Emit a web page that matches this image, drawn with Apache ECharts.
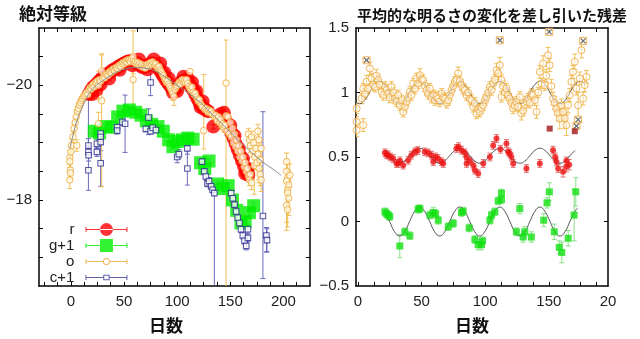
<!DOCTYPE html>
<html><head><meta charset="utf-8">
<script src="https://cdn.jsdelivr.net/npm/echarts@6/dist/echarts.min.js"></script>
<style>html,body{margin:0;padding:0;background:#fff}#c{width:640px;height:339px}</style>
</head><body><div id="c"></div>
<script>
// ---------- LEFT PANEL DATA: [day, absolute magnitude, error (number or [toward-bright, toward-faint])] ----------
const rPts = [[17,-19.85],[19,-19.92],[21,-19.97],[23,-20.0],[25,-20.04],[27,-20.08],[29,-20.12],[31,-20.15],[33,-20.18],[35,-20.2],[37,-20.23],[39,-20.26],[41,-20.28],[43,-20.3],[45,-20.33],[47,-20.35],[49,-20.37],[51,-20.39],[53,-20.41],[55,-20.42],[57,-20.42],[59,-20.41],[61,-20.39],[63,-20.37],[65,-20.35],[67,-20.32],[69,-20.32],[71,-20.34],[73,-20.36],[75,-20.38],[77,-20.38],[79,-20.36],[81,-20.32],[83,-20.28],[85,-20.22],[87,-20.16],[89,-20.1],[91,-20.05],[93,-20.0],[95,-19.95],[97,-19.93],[99,-19.95],[101,-19.99],[103,-20.04],[105,-20.07],[107,-20.08],[109,-20.07],[111,-20.03],[113,-19.98],[115,-19.92],[117,-19.85],[119,-19.77],[121,-19.7],[123,-19.65],[125,-19.6],[127,-19.57],[129,-19.55],[134,-19.28],[141,-19.5],[143,-19.45],[145,-19.4],[147,-19.33],[149,-19.25],[151,-19.17],[153,-19.08],[155,-18.98],[157,-18.88],[159,-18.78],[161,-18.68],[163,-18.58],[165,-18.5],[167,-18.44],
[20,-19.85],[24,-19.92],[28,-20.02],[36,-20.12],[46,-20.27],[58,-20.35],[64,-20.45],[72,-20.28],[78,-20.45],[84,-20.38],[88,-20.22],[92,-20.12],[96,-19.88],[100,-19.9],[106,-20.15],[110,-20.12],[114,-20.05],[118,-19.9],[122,-19.62],[124,-19.72],[144,-19.52],[150,-19.3],[154,-19.12],[158,-18.9],[162,-18.72],[166,-18.55],[164,-18.46]];
const rErr = 0.04;

const gPts = [[22,-19.2,0.04],[27,-19.17,0.04],[33,-19.28,0.04],[38,-19.27,0.04],[44,-19.45,0.04],[49,-19.55,0.04],[55,-19.57,0.04],[61,-19.53,0.04],[66,-19.48,0.04],[71,-19.38,0.04],[76,-19.32,0.04],[82,-19.28,0.04],[87,-19.2,0.04],[92,-19.05,0.04],[96,-18.93,0.04],[100,-19.02,0.04],[105,-19.05,0.04],[110,-19.08,0.04],[115,-19.06,0.04],[122,-18.65,0.04],[126,-18.55,0.04],[130,-18.68,0.04],[138,-18.28,0.05],[143,-18.2,0.05],[148,-18.25,0.05],[152,-18.0,0.05],[156,-17.82,0.05],[160,-17.6,0.05],[164,-17.62,0.05],[168,-17.78,0.05],[172,-17.9,0.06]];

const oPts = [[-1,-18.74,0.12],[-1,-18.67,0.1],[-0.5,-18.52,0.12],[-0.5,-18.47,0.1],[-1,-18.35,0.15],[0,-18.84,0.1],[0.5,-18.95,0.12],
[2,-19.1,0.1],[3,-19.25,0.08],[4,-19.35,0.08],[5.5,-18.95,0.1],[5,-19.45,0.08],[6,-19.55,0.08],[7,-19.6,0.08],[8,-19.66,0.07],[9,-19.7,0.07],[10,-19.74,0.06],[11,-19.77,0.06],[12,-19.8,0.06],[13,-19.82,0.06],[14,-19.85,0.05],[15,-19.88,0.05],[16,-19.84,0.05],[17,-19.92,0.05],[18,-19.96,0.05],[19,-19.93,0.05],[20,-19.99,0.05],[21,-20.02,0.05],[22,-19.97,0.05],[23,-20.05,0.05],[24,-20.03,0.05],[25,-20.08,0.05],[26,-20.0,0.25],[26,-19.33,0.2],[27,-20.1,0.05],[28,-20.07,0.05],[29,-20.25,0.3],[29,-19.73,[0.8,1.5]],[30,-20.12,0.05],[31,-20.16,0.05],[32,-20.13,0.05],[33,-20.19,0.05],[34,-20.2,0.05],[35,-20.17,0.05],[36,-20.23,0.05],[37,-20.25,0.05],[38,-20.22,0.05],[39,-20.27,0.05],[40,-20.29,0.05],[41,-20.26,0.05],[42,-20.3,0.05],[43,-20.32,0.05],[44,-20.29,0.05],[45,-20.34,0.05],[46,-20.36,0.05],[47,-20.33,0.05],[48,-20.38,0.05],[49,-20.4,0.05],[50,-20.37,0.05],[51,-20.41,0.05],[52,-20.43,0.05],[53,-20.4,0.05],[54,-20.45,0.05],[55,-20.44,0.05],[56,-20.41,0.05],[57,-20.46,0.05],[58.5,-20.5,[0.45,0.3]],[58.5,-20.1,[0.2,0.6]],[59,-20.42,0.05],[60,-20.39,0.05],[61,-20.41,0.05],[62,-20.37,0.05],[63,-20.4,0.05],[64,-20.35,0.05],[65,-20.38,0.05],[66,-20.33,0.05],[67,-20.36,0.05],[68,-20.31,0.05],[69,-20.34,0.05],[70,-20.3,0.05],[71,-20.35,0.05],[72,-20.37,0.05],[73,-20.33,0.05],[74,-20.38,0.05],[75,-20.4,0.05],[76,-20.36,0.05],[77,-20.41,0.05],[78,-20.38,0.05],[79,-20.35,0.05],[80,-20.37,0.05],[81,-20.32,0.05],[82,-20.3,0.05],[83,-20.33,0.05],[84,-20.27,0.05],[85,-20.24,0.05],[86,-20.2,0.06],[87,-20.17,0.06],[88,-20.12,0.06],[89,-20.09,0.06],[90,-20.05,0.06],[91,-20.08,0.06],[92,-20.02,0.06],[93,-19.98,0.06],[94,-19.94,0.06],[95,-19.9,0.06],[96,-19.86,0.12],[97,-19.8,0.15],[98,-19.93,0.06],[99,-19.97,0.06],[100,-20.0,0.06],[101,-20.03,0.06],[102,-20.06,0.06],[103,-20.02,0.06],[104,-20.08,0.06],[105,-20.1,0.06],[106,-20.06,0.06],[107,-20.09,0.06],[108,-20.05,0.06],[109,-20.1,0.06],[110,-20.03,0.06],[112,-20.24,0],[111,-19.98,0.06],[112,-19.95,0.06],[113,-19.92,0.06],[114,-19.97,0.06],[115,-19.88,0.06],[116,-19.84,0.06],[117,-19.86,0.06],[118,-19.8,0.06],[119,-19.76,0.06],[120,-19.72,0.06],[121,-19.75,0.06],[122,-19.68,0.06],[123,-19.65,0.06],[124,-19.62,0.06],[125,-19.21,[0.98,0.32]],[126,-19.58,0.06],[127,-19.6,0.06],[128,-19.56,0.06],[129,-19.53,0.06],[130,-19.57,0.06],[131,-19.52,0.06],[132,-19.55,0.06],[133,-19.5,0.06],[135,-19.45,0.06],[136,-19.48,0.06],[137,-19.42,0.06],[138,-19.38,0.06],[139,-19.45,0.06],[140,-19.35,0.07],[141,-19.4,0.07],[142,-19.3,0.07],[143,-19.33,0.07],[144,-19.25,0.07],[145,-19.3,0.07],[146,-20.04,[0.75,3.6]],[146,-19.47,0.15],[147,-19.2,0.07],[148,-19.45,0.07],[149,-19.15,0.07],[150,-19.35,0.07],[151,-19.1,0.07],[152,-19.25,0.08],[153,-19.0,0.08],[154,-19.15,0.08],[155,-18.93,0.08],[156,-19.05,0.08],[157,-18.85,0.08],[158,-18.95,0.08],[159,-18.75,0.08],[160,-18.85,0.08],[161,-18.68,0.08],[162,-18.75,0.1],[163,-18.58,0.1],[164,-18.65,0.1],[165,-18.5,0.1],[166,-18.55,0.1],[167,-18.42,0.1],[168,-18.35,0.1],[169,-18.45,0.1],[170,-18.3,0.12],
[167,-19.15,0.1],[168,-19.05,0.1],[169,-18.95,0.12],[170,-19.1,0.1],[171,-18.85,0.1],[172,-19.0,0.12],[172.5,-18.6,[0.2,0.5]],[173,-18.75,0.12],[174,-18.9,0.15],[175,-18.65,0.12],[176,-19.2,0.12],[176,-18.8,0.15],[177,-18.55,0.2],[177,-19.05,[0.15,0.75]],[178,-18.7,0.15],[178,-18.45,0.2],[179,-18.9,0.15],[179,-18.35,0.2],
[203,-18.67,[0.15,1.2]],[203,-18.5,0.2],[204,-18.38,0.25],[203,-18.33,0.2],[205,-18.26,0.25],[204,-18.17,0.3],[204,-18.12,0.3],[205,-18.03,0.3],[203,-17.91,0.3],[204,-17.83,0.3],[206,-18.43,0.2]];

const cPts = [[16.5,-18.95,0.12],[16.5,-18.84,0.1],[16.7,-18.78,0.1],[16.5,-18.52,[1.27,0.35]],[24.5,-18.98,0.08],[24.5,-18.84,0.08],[28,-19.16,0.1],[28,-19.1,0.1],[28,-19.01,0.15],[28,-18.64,[0.7,0.4]],[43.5,-19.27,0.06],[43.5,-19.21,0.06],[48.5,-19.36,0.06],[51,-19.33,0.5],[70.5,-19.24,0.05],[73,-19.44,[0.15,0.3]],[75,-19.2,0.05],[77,-19.26,0.05],[80,-19.22,0.05],[75,-20.05,0.23],[100,-18.75,0.1],[101.6,-18.8,0.08],[109.6,-18.9,0.1],[109.6,-18.55,[0.43,0.29]],[123.3,-18.67,0.06],[125.5,-18.5,0.06],[127,-18.41,0.06],[128.5,-18.29,0.06],[130,-18.33,0.06],[132,-18.24,0.06],[133.4,-18.18,0.06],[135,-18.12,[0.15,1.8]],[150.8,-18.12,0.05],[152.4,-18.03,0.05],[154,-17.92,0.05],[155.5,-17.8,0.05],[157,-17.69,0.05],[158.6,-17.6,0.05],[160,-17.49,0.06],[161.8,-17.38,0.06],[163.4,-17.29,0.06],[165,-17.2,0.07],[166.6,-17.34,0.07],[166.6,-17.49,0.07],[180.7,-17.72,[1.82,1.09]],[184,-17.38,[0.14,0.29]],[184.5,-17.3,0.2]];

const fitLeft = [[-1,-18.9],[3,-19.2],[6,-19.4],[10,-19.58],[14,-19.75],[18,-19.88],[24,-20.0],[30,-20.08],[40,-20.2],[50,-20.28],[60,-20.31],[70,-20.3],[80,-20.24],[90,-20.13],[100,-20.0],[110,-19.87],[120,-19.73],[130,-19.55],[140,-19.37],[150,-19.18],[160,-19.0],[170,-18.83],[180,-18.67],[190,-18.54],[198,-18.43]];

// ---------- RIGHT PANEL DATA: residuals [day, value, error] ----------
const oRes = [[-1,0.876,0.04],[-1,0.773,0.04],[-1,0.708,0.05],[2.9,0.953,0.04],[4.2,0.747,0.05],[4.2,1.031,0.04],[5.5,0.99,0.04],[6.8,1.083,0.05],[8,1.03,0.04],[9.4,1.186,0.05],[10.7,1.109,0.04],[12,1.06,0.04],[13.3,1.044,0.04],[14.5,1.13,0.05],[15.9,1.096,0.04],[17,1.06,0.04],[18.6,1.005,0.04],[20,0.98,0.04],[21.2,1.044,0.04],[22.5,1.02,0.04],[23.8,0.992,0.04],[25,0.96,0.04],[26.4,1.044,0.04],[27.7,1.0,0.04],[29,0.953,0.04],[30.3,0.93,0.04],[31.6,0.979,0.04],[33,0.902,0.04],[34.3,0.94,0.04],[35.6,0.85,0.04],[36.9,0.89,0.04],[38.2,0.928,0.04],[39.5,0.96,0.04],[40.8,1.005,0.04],[42,0.98,0.04],[43.5,1.07,0.04],[44.8,1.03,0.04],[46,1.109,0.04],[47.3,1.07,0.04],[48.7,1.134,0.05],[50,1.1,0.04],[51.3,1.096,0.04],[52.6,1.05,0.04],[53.9,1.018,0.04],[55.2,0.99,0.04],[56.5,1.031,0.04],[57.8,0.96,0.04],[59.2,0.979,0.04],[60.5,0.94,0.04],[61.8,0.97,0.04],[63,0.953,0.04],[64.4,0.93,0.04],[65.8,0.99,0.04],[67,0.96,0.04],[68.4,0.953,0.04],[69.7,0.92,0.04],[71,0.941,0.04],[72.3,0.98,0.04],[73.6,1.018,0.04],[74.9,1.05,0.04],[76.2,1.083,0.04],[77.5,1.1,0.04],[78.8,1.147,0.05],[80.1,1.09,0.04],[81.4,1.057,0.04],[82.7,1.03,0.04],[84,1.018,0.04],[85.4,0.979,0.04],[86.7,1.0,0.04],[88,0.95,0.04],[89.3,0.941,0.04],[90.6,0.889,0.04],[91.9,0.92,0.04],[93.2,0.837,0.04],[94.5,0.87,0.04],[95.8,0.85,0.04],[97.1,0.88,0.04],[98.5,0.902,0.04],[99.8,0.94,0.04],[101,0.966,0.04],[102.4,1.0,0.04],[103.7,1.044,0.04],[105,1.02,0.04],[106.3,1.07,0.04],[107.6,1.1,0.04],[108.9,1.173,0.05],[110.2,1.15,0.05],[111.5,1.212,0.06],[112.8,1.096,0.04],[112.8,0.966,0.04],[114,1.05,0.04],[115.4,1.0,0.04],[116.7,1.031,0.04],[118,0.98,0.04],[119.3,0.953,0.04],[120.6,0.92,0.04],[121.9,0.876,0.04],[123.2,0.9,0.04],[124.5,0.928,0.04],[125.8,0.89,0.04],[127.2,0.966,0.04],[128.5,0.837,0.05],[129.8,0.86,0.04],[131.1,0.902,0.04],[132.4,0.93,0.04],[133.7,0.953,0.04],[135,0.92,0.04],[136.3,0.99,0.04],[137.6,0.979,0.04],[139,0.94,0.04],[140.3,0.85,0.05],[141.6,1.0,0.04],[142.9,1.16,0.05],[144.2,1.07,0.04],[145.5,1.225,0.06],[146.8,1.057,0.04],[148,1.13,0.05],[149.4,1.289,0.06],[150.7,1.212,0.05],[152,1.05,0.05],[153.3,0.953,0.05],[154.6,0.92,0.05],[156,0.876,0.05],[157.3,0.84,0.06],[158.6,0.798,0.08],[159.9,0.9,0.05],[161.2,0.85,0.07],[162.5,0.8,0.08],[163.8,0.747,0.08],[165.1,0.902,0.06],[166.4,0.979,0.05],[167.7,1.083,0.05],[169,1.16,0.05],[170.4,1.238,0.06],[171.7,1.031,0.05],[173,0.9,0.1],[174.3,1.109,0.05],[175.6,1.328,0.06],[177,0.953,0.05],[178.2,1.057,0.05],[179.6,1.121,0.05]];
const xMarks = [[6.8,1.25],[111.5,1.405],[150.3,1.47],[177,1.4],[173,0.79],[171.7,0.74]];
const darkRed = [[150.7,0.72],[170.4,0.70]];
const rRes = [[21.2,0.532,0.03],[22.5,0.52,0.03],[23.8,0.514,0.03],[25.5,0.5,0.03],[27.7,0.488,0.03],[30.3,0.45,0.03],[31.6,0.45,0.03],[33,0.47,0.03],[35.6,0.437,0.03],[39.5,0.475,0.03],[42,0.514,0.03],[44.7,0.54,0.03],[47,0.55,0.03],[52.5,0.54,0.03],[55.2,0.532,0.03],[57.8,0.514,0.03],[59.2,0.463,0.03],[61,0.5,0.03],[63,0.488,0.03],[65.7,0.463,0.03],[67,0.45,0.03],[77.4,0.566,0.03],[79,0.58,0.03],[81.4,0.553,0.03],[84,0.532,0.03],[85.4,0.5,0.03],[85.4,0.45,0.03],[88,0.47,0.03],[90.6,0.437,0.03],[91.9,0.398,0.03],[94.5,0.372,0.03],[98.5,0.45,0.03],[103.7,0.5,0.03],[106.3,0.59,0.03],[108.9,0.643,0.03],[112,0.56,0.03],[116.7,0.605,0.03],[118,0.54,0.03],[119.3,0.53,0.03],[120.6,0.5,0.03],[122,0.45,0.03],[132.4,0.411,0.03],[142.9,0.45,0.03],[153.3,0.553,0.03],[155,0.5,0.03],[156,0.463,0.03],[157.3,0.411,0.03],[161.2,0.385,0.04],[163.8,0.424,0.04],[163.8,0.47,0.03],[166,0.44,0.04]];
const gRes = [[21.2,0.075,0.03],[22.5,0.06,0.03],[23.8,0.05,0.03],[25,0.038,0.03],[32.9,-0.19,0.09],[36.9,-0.08,0.03],[40.8,-0.11,0.03],[47.3,0.095,0.03],[48.7,0.1,0.03],[56.6,0.05,0.03],[59.2,0.07,0.04],[61,0.06,0.03],[63.1,0.01,0.03],[71,-0.04,0.03],[74.9,-0.015,0.03],[81.4,0.07,0.03],[82.7,0.08,0.03],[87.4,-0.05,0.03],[91.9,-0.14,0.03],[94.5,-0.18,0.04],[97.1,-0.18,0.04],[97.9,-0.15,0.03],[103.7,0.01,0.03],[105,0.05,0.03],[107.6,0.075,0.03],[110.2,0.16,0.03],[112.8,0.17,0.03],[112.8,0.22,0.03],[124.5,-0.08,0.03],[127.2,0.1,0.04],[129.8,-0.12,0.04],[131.1,-0.08,0.04],[136.3,-0.12,0.04],[146,0.01,0.05],[148.6,0.145,0.04],[150.4,0.23,0.07],[154.3,-0.08,0.06],[158.2,-0.2,0.05],[160.2,-0.24,0.08],[165.2,-0.13,0.06],[169.9,0.05,0.2],[171.2,0.23,0.11]];

// periodic fit curves read at peaks, troughs and between
const fitO = [[-1.5,0.926],[1.25,0.913],[5.2,0.938],[9.1,1.0],[13.1,1.062],[17,1.087],[20.9,1.062],[24.9,1.0],[28.8,0.938],[32.75,0.913],[36.7,0.938],[40.6,1.0],[44.6,1.062],[48.5,1.087],[52.4,1.062],[56.4,1.0],[60.3,0.938],[64.25,0.913],[68.2,0.938],[72.1,1.0],[76.1,1.062],[80,1.087],[83.9,1.062],[87.9,1.0],[91.8,0.938],[95.75,0.913],[99.7,0.938],[103.6,1.0],[107.6,1.062],[111.5,1.087],[115.4,1.062],[119.4,1.0],[123.3,0.938],[127.25,0.913],[131.2,0.938],[135.1,1.0],[139.1,1.062],[143,1.087],[146.9,1.062],[150.9,1.0],[154.8,0.938],[158.75,0.913],[162.7,0.938],[166.6,1.0],[170.6,1.062],[174.5,1.087],[178.4,1.062]];
const fitR = [[20.9,0.551],[24.9,0.51],[28.8,0.469],[32.75,0.452],[36.7,0.469],[40.6,0.51],[44.6,0.551],[48.5,0.568],[52.4,0.551],[56.4,0.51],[60.3,0.469],[64.25,0.452],[68.2,0.469],[72.1,0.51],[76.1,0.551],[80,0.568],[83.9,0.551],[87.9,0.51],[91.8,0.469],[95.75,0.452],[99.7,0.469],[103.6,0.51],[107.6,0.551],[111.5,0.568],[115.4,0.551],[119.4,0.51],[123.3,0.469],[127.25,0.452],[131.2,0.469],[135.1,0.51],[139.1,0.551],[143,0.568],[146.9,0.551],[150.9,0.51],[154.8,0.469],[158.75,0.452],[162.7,0.469],[166.6,0.51],[170.6,0.551]];
const fitG = [[20.9,0.079],[24.9,0.0],[28.8,-0.079],[32.75,-0.112],[36.7,-0.079],[40.6,0.0],[44.6,0.079],[48.5,0.112],[52.4,0.079],[56.4,0.0],[60.3,-0.079],[64.25,-0.112],[68.2,-0.079],[72.1,0.0],[76.1,0.079],[80,0.112],[83.9,0.079],[87.9,0.0],[91.8,-0.079],[95.75,-0.112],[99.7,-0.079],[103.6,0.0],[107.6,0.079],[111.5,0.112],[115.4,0.079],[119.4,0.0],[123.3,-0.079],[127.25,-0.112],[131.2,-0.079],[135.1,0.0],[139.1,0.079],[143,0.112],[146.9,0.079],[150.9,0.0],[154.8,-0.079],[158.75,-0.112],[162.7,-0.079],[166.6,0.0],[170.6,0.079],[172.5,0.103]];

const leftXLabels = [0, 50, 100, 150, 200];
const leftYLabels = [-20, -18];
const rightXLabels = [0, 50, 100, 150, 196.5];
const rightYLabels = [-0.5, 0, 0.5, 1, 1.5];
const legendNames = ['r', 'g+1', 'o', 'c+1'];

// ---------- CHART ----------
const FONT = '"Liberation Sans", Arial, sans-serif';
const CJK = '"Noto Sans CJK JP", "Noto Sans", sans-serif';
const chart = echarts.init(document.getElementById('c'));

function range(a, b, s) { const r = []; for (let v = a; v <= b + 1e-9; v += s) r.push(+v.toFixed(4)); return r; }
const fmtMinus = v => (v < 0 ? '\u2212' : '') + Math.abs(v);

function errSeries(pts, xi, color, cap, defErr) {
  return {
    type: 'custom', xAxisIndex: xi, yAxisIndex: xi, clip: true, silent: true, z: 2,
    data: pts.map(p => {
      const e = p.length > 2 ? p[2] : defErr;
      const up = Array.isArray(e) ? e[0] : e, dn = Array.isArray(e) ? e[1] : e;
      return [p[0], p[1], p[1] - up, p[1] + dn];
    }),
    encode: { x: 0, y: 1 },
    renderItem(params, api) {
      const x = api.value(0), lo = api.value(2), hi = api.value(3);
      if (lo === hi) return null;
      const a = api.coord([x, lo]), b = api.coord([x, hi]);
      const st = { stroke: color, lineWidth: 1 };
      return { type: 'group', children: [
        { type: 'line', shape: { x1: a[0], y1: a[1], x2: b[0], y2: b[1] }, style: st },
        { type: 'line', shape: { x1: a[0] - cap, y1: a[1], x2: a[0] + cap, y2: a[1] }, style: st },
        { type: 'line', shape: { x1: b[0] - cap, y1: b[1], x2: b[0] + cap, y2: b[1] }, style: st }
      ] };
    }
  };
}
const xy = pts => pts.map(p => [p[0], p[1]]);

const axisLine = { onZero: false, lineStyle: { color: '#000', width: 1.5 } };
const tickStyle = { color: '#000', width: 1 };
const lbl = { fontSize: 15, color: '#222', fontFamily: FONT };

function xAxes(grid, min, max, ticks, labels, fmt, name, pad) {
  return [
    { gridIndex: grid, type: 'value', min, max, position: 'bottom', axisLine,
      axisTick: { inside: true, length: 4, customValues: ticks, lineStyle: tickStyle },
      axisLabel: Object.assign({ customValues: labels, margin: 8, formatter: fmt, showMinLabel: true, showMaxLabel: true }, lbl),
      splitLine: { show: false },
      name, nameLocation: 'middle', nameGap: 31,
      nameTextStyle: { fontFamily: CJK, fontSize: 17, fontWeight: 'bold', color: '#111', padding: pad } },
    { gridIndex: grid, type: 'value', min, max, position: 'top', axisLine,
      axisTick: { inside: true, length: 4, customValues: ticks, lineStyle: tickStyle },
      axisLabel: { show: false }, splitLine: { show: false } }
  ];
}
function yAxes(grid, min, max, inverse, ticks, labels) {
  return [
    { gridIndex: grid, type: 'value', min, max, inverse, position: 'left', axisLine,
      axisTick: { inside: true, length: 4, customValues: ticks, lineStyle: tickStyle },
      axisLabel: Object.assign({ customValues: labels, margin: 7, formatter: fmtMinus }, lbl),
      splitLine: { show: false } },
    { gridIndex: grid, type: 'value', min, max, inverse, position: 'right', axisLine,
      axisTick: { inside: true, length: 4, customValues: ticks, lineStyle: tickStyle },
      axisLabel: { show: false }, splitLine: { show: false } }
  ];
}

const xa = [].concat(
  xAxes(0, -30, 225, range(-25, 212.5, 12.5), leftXLabels, v => String(v), '日数', [0, 17, 0, 0]),
  xAxes(1, -1.5, 196.5, range(0, 187.5, 12.5), rightXLabels, v => (v > 190 ? '20' : String(v)), '日数', [0, 20, 0, 0])
);
const ya = [].concat(
  yAxes(0, -21, -16.5, true, range(-20.5, -17, 0.5), leftYLabels),
  yAxes(1, -0.5, 1.5, false, range(0, 1, 0.5), rightYLabels)
);
function onAxes(s, i) { s.xAxisIndex = i; s.yAxisIndex = i; return s; }

const ORANGE = '#eea535', ORANGE_BAR = '#f0bf55';
const series = [
  // left panel
  onAxes(errSeries(gPts, 0, '#66dd66', 2.5), 0),
  onAxes({ type: 'scatter', name: 'g+1', data: xy(gPts), symbol: 'rect', symbolSize: 13, itemStyle: { color: '#00ee00' }, z: 3 }, 0),
  onAxes(errSeries(rPts, 0, '#cc3333', 2.5, rErr), 0),
  onAxes({ type: 'scatter', name: 'r', data: xy(rPts), symbol: 'circle', symbolSize: 14, itemStyle: { color: '#ff0000' }, z: 3 }, 0),
  onAxes(errSeries(cPts, 0, '#6b6bc0', 2.5), 0),
  onAxes({ type: 'scatter', name: 'c+1', data: xy(cPts), symbol: 'rect', symbolSize: 5.5, itemStyle: { color: '#ffffff', borderColor: '#2d2d8c', borderWidth: 1.1 }, z: 4 }, 0),
  onAxes(errSeries(oPts, 0, ORANGE_BAR, 2.5), 0),
  onAxes({ type: 'scatter', name: 'o', data: xy(oPts), symbol: 'circle', symbolSize: 6.5, itemStyle: { color: 'rgba(255,255,240,0.9)', borderColor: ORANGE, borderWidth: 1 }, z: 5 }, 0),
  onAxes({ type: 'line', name: 'fit', data: fitLeft, smooth: true, showSymbol: false, lineStyle: { color: '#8a8a8a', width: 1 }, z: 6, silent: true }, 0),
  // right panel
  onAxes({ type: 'line', name: 'fitO', data: fitO, smooth: true, showSymbol: false, lineStyle: { color: '#555', width: 1 }, z: 2, silent: true }, 2),
  onAxes({ type: 'line', name: 'fitR', data: fitR, smooth: true, showSymbol: false, lineStyle: { color: '#555', width: 1 }, z: 2, silent: true }, 2),
  onAxes({ type: 'line', name: 'fitG', data: fitG, smooth: true, showSymbol: false, lineStyle: { color: '#555', width: 1 }, z: 2, silent: true }, 2),
  onAxes(errSeries(oRes, 2, ORANGE_BAR, 2.5), 2),
  onAxes({ type: 'scatter', name: 'o res', data: xy(oRes), symbol: 'circle', symbolSize: 7, itemStyle: { color: 'rgba(255,255,255,0.6)', borderColor: ORANGE, borderWidth: 1 }, z: 3 }, 2),
  onAxes({ type: 'scatter', name: 'o res x', data: xMarks, symbol: 'rect', symbolSize: 7, itemStyle: { color: '#fff', borderColor: ORANGE, borderWidth: 1 }, z: 4 }, 2),
  onAxes({ type: 'scatter', name: 'o res x2', data: xMarks, symbol: 'path://M0 0L10 10M10 0L0 10', symbolSize: 5, itemStyle: { color: 'none', borderColor: '#444', borderWidth: 1.2 }, z: 5 }, 2),
  onAxes({ type: 'scatter', name: 'dark', data: darkRed, symbol: 'rect', symbolSize: 6, itemStyle: { color: '#a01515' }, z: 5 }, 2),
  onAxes(errSeries(rRes, 2, '#e07070', 2.5), 2),
  onAxes({ type: 'scatter', name: 'r res', data: xy(rRes), symbol: 'circle', symbolSize: 6, itemStyle: { color: '#ee1111' }, z: 4 }, 2),
  onAxes(errSeries(gRes, 2, '#88e088', 2.5), 2),
  onAxes({ type: 'scatter', name: 'g res', data: xy(gRes), symbol: 'rect', symbolSize: 7, itemStyle: { color: '#11e011' }, z: 4 }, 2)
];

// legend icons: error-bar line with caps + symbol
const BAR = 'M0 6.5L42 6.5L42 7.5L0 7.5ZM0 4.5L1 4.5L1 9.5L0 9.5ZM41 4.5L42 4.5L42 9.5L41 9.5Z';
const icons = {
  'r': 'path://' + BAR + 'M14.5 7A6.5 6.5 0 1 0 27.5 7A6.5 6.5 0 1 0 14.5 7Z',
  'g+1': 'path://' + BAR + 'M14.5 0.5L27.5 0.5L27.5 13.5L14.5 13.5Z',
  'o': 'path://M0 6.5L17.6 6.5L17.6 7.5L0 7.5ZM24.4 6.5L42 6.5L42 7.5L24.4 7.5ZM0 4.5L1 4.5L1 9.5L0 9.5ZM41 4.5L42 4.5L42 9.5L41 9.5ZM17.5 7A3.5 3.5 0 1 0 24.5 7A3.5 3.5 0 1 0 17.5 7ZM18.5 7A2.5 2.5 0 1 1 23.5 7A2.5 2.5 0 1 1 18.5 7Z',
  'c+1': 'path://M0 6.5L18 6.5L18 7.5L0 7.5ZM24 6.5L42 6.5L42 7.5L24 7.5ZM0 4.5L1 4.5L1 9.5L0 9.5ZM41 4.5L42 4.5L42 9.5L41 9.5ZM17.8 4.2L24.2 4.2L24.2 9.8L17.8 9.8ZM23.2 5.2L18.8 5.2L18.8 8.8L23.2 8.8Z'
};
const legendColors = { 'r': '#ff0000', 'g+1': '#00ee00', 'o': ORANGE, 'c+1': '#3a3a95' };

chart.setOption({
  animation: false,
  backgroundColor: '#fff',
  title: [
    { text: '絶対等級', left: 14, top: 0, textStyle: { fontFamily: CJK, fontSize: 17, fontWeight: 'bold', color: '#111' } },
    { text: '平均的な明るさの変化を差し引いた残差', left: 352, top: 3, textStyle: { fontFamily: CJK, fontSize: 15, fontWeight: 'bold', color: '#111' } }
  ],
  grid: [
    { left: 39, right: 330, top: 28, bottom: 52 },
    { left: 356, right: 32, top: 28, bottom: 52 }
  ],
  xAxis: xa,
  yAxis: ya,
  legend: {
    orient: 'vertical', align: 'right', left: 49, top: 222, padding: 0, itemGap: 1,
    itemWidth: 42, itemHeight: 14, selectedMode: false,
    textStyle: { fontFamily: FONT, fontSize: 15, color: '#222', padding: [0, 6, 0, 0] },
    data: legendNames.map(n => ({ name: n, icon: icons[n], itemStyle: { color: legendColors[n], borderWidth: 0 } }))
  },
  series
});
</script></body></html>
